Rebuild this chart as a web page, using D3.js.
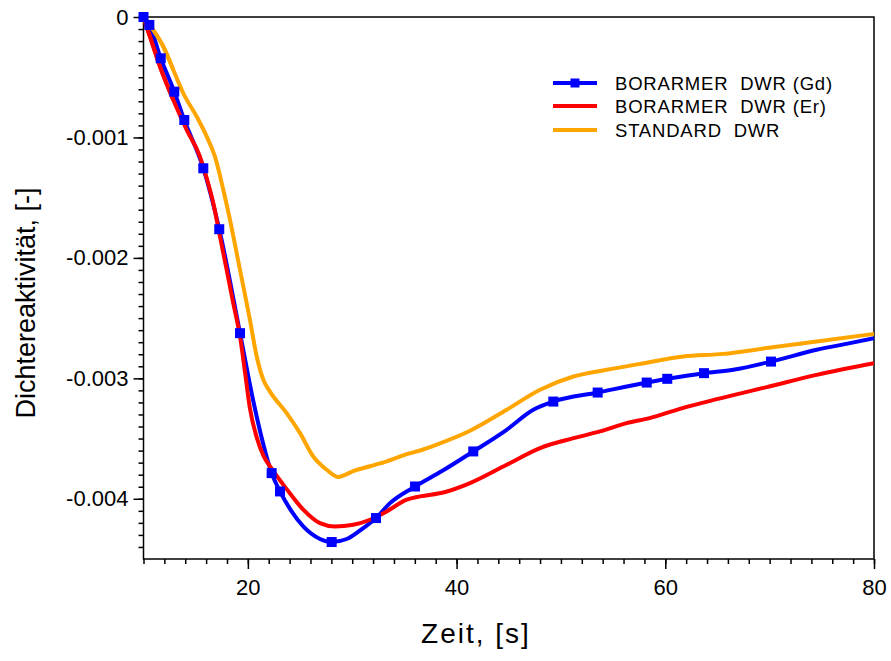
<!DOCTYPE html>
<html>
<head>
<meta charset="utf-8">
<script src="https://cdn.jsdelivr.net/npm/d3@7"></script>
<style>
  body { margin: 0; background: #fff; }
  svg { display: block; font-family: "Liberation Sans", Arial, Helvetica, sans-serif; }
  .leg text, .title { white-space: pre; }
</style>
</head>
<body>
<svg id="chart" width="891" height="661"></svg>
<script>
// Zeit [s] und Dichtereaktivität [-] der drei Kernvarianten
const gdTime = [10, 10.56, 11.65, 12.95, 13.91, 15.73, 17.26, 19.25, 20.5, 21.4, 22.28, 23.08, 24.08, 25.31, 26.91, 28.03, 29.47, 31.06, 32.28, 33.62, 36.02, 38.6, 41.6, 44.8, 47.35, 49.27, 53.52, 58.22, 60.19, 63.71, 66.52, 70.13, 74.5, 77.7, 80];
const gdValue = [0, -0.000066, -0.000343, -0.00062, -0.000855, -0.001256, -0.001762, -0.002625, -0.00318, -0.00352, -0.003787, -0.003939, -0.00409, -0.00423, -0.004334, -0.004359, -0.004334, -0.004243, -0.00416, -0.004036, -0.003898, -0.00377, -0.003607, -0.003427, -0.003261, -0.003193, -0.003118, -0.003035, -0.003004, -0.002957, -0.002929, -0.002861, -0.002763, -0.002708, -0.002667];
// Zeitpunkte mit Symbol auf der Gd-Kurve
const gdMarkerTime = [10, 10.56, 11.65, 12.95, 13.91, 15.73, 17.26, 19.25, 22.28, 23.08, 28.03, 32.28, 36.02, 41.6, 49.27, 53.52, 58.22, 60.19, 63.71, 70.13];

const erTime = [10, 10.62, 11.58, 12.86, 14.14, 15.41, 16.06, 16.69, 17.33, 17.97, 18.6, 19.25, 19.73, 20.2, 20.85, 21.48, 22.28, 23.72, 25.31, 26.91, 28.35, 30.1, 31.7, 33.3, 35.22, 36.5, 38.73, 41.29, 44.8, 48.0, 51.2, 53.74, 56.3, 58.5, 61.4, 64.93, 69.72, 74.5, 80];
const erValue = [-0.00001, -0.000163, -0.000412, -0.000689, -0.000938, -0.001159, -0.001339, -0.001546, -0.001823, -0.0021, -0.002376, -0.002653, -0.00295, -0.00325, -0.00349, -0.00364, -0.00375, -0.00392, -0.00409, -0.004202, -0.00423, -0.004216, -0.004174, -0.004105, -0.004008, -0.00398, -0.003948, -0.00387, -0.003718, -0.003579, -0.003497, -0.003441, -0.003372, -0.00333, -0.003253, -0.003173, -0.003073, -0.002971, -0.002874];

const stdTime = [10, 10.94, 11.9, 12.86, 13.81, 15.1, 16.06, 16.85, 17.65, 18.29, 18.93, 19.57, 20.2, 20.85, 21.48, 22.12, 23.72, 25.0, 26.27, 27.55, 28.67, 29.47, 30.1, 31.7, 33.3, 35.22, 36.5, 38.1, 41.29, 44.8, 48.0, 51.2, 54.39, 57.58, 61.73, 65.56, 69.72, 74.5, 80];
const stdValue = [0, -0.000108, -0.000246, -0.00044, -0.000633, -0.000827, -0.000993, -0.001159, -0.001436, -0.001685, -0.001961, -0.002238, -0.002515, -0.002819, -0.003012, -0.00311, -0.003289, -0.003455, -0.003649, -0.003759, -0.00382, -0.003795, -0.00377, -0.00373, -0.00369, -0.00363, -0.003599, -0.00355, -0.003435, -0.003261, -0.003095, -0.002985, -0.002929, -0.00288, -0.002819, -0.002797, -0.002749, -0.002694, -0.002631];

const xTicks = [20, 40, 60, 80];
const yTicks = [0, -0.001, -0.002, -0.003, -0.004];
const yTickLabels = ["0", "-0.001", "-0.002", "-0.003", "-0.004"];
const seriesNames = ["BORARMER  DWR (Gd)", "BORARMER  DWR (Er)", "STANDARD  DWR"];
const seriesColors = ["#0000ff", "#ff0000", "#ffa500"];

const svg = d3.select("#chart");
const mLeft = 143.5, mRight = 874, mTop = 17, mBottom = 559;

const x = d3.scaleLinear().domain([10, 80]).range([mLeft, mRight]);
const y = d3.scaleLinear().domain([-0.0045, 0]).range([mBottom, mTop]);

// Minor ticks
svg.append("g")
  .attr("transform", `translate(0,${mBottom})`)
  .call(d3.axisBottom(x).tickValues(d3.range(10, 80.01, 2)).tickSize(5).tickFormat(""))
  .call(g => g.select(".domain").remove())
  .call(g => g.selectAll("line").attr("stroke-width", 1.5));
svg.append("g")
  .attr("transform", `translate(${mLeft},0)`)
  .call(d3.axisLeft(y).tickValues(d3.range(0, 45).map(i => -i * 0.0001)).tickSize(5).tickFormat(""))
  .call(g => g.select(".domain").remove())
  .call(g => g.selectAll("line").attr("stroke-width", 1.5));

// Major ticks with labels
svg.append("g")
  .attr("transform", `translate(0,${mBottom})`)
  .call(d3.axisBottom(x).tickValues(xTicks).tickSize(10).tickPadding(10).tickFormat(d3.format("d")))
  .call(g => g.select(".domain").remove())
  .call(g => g.selectAll("line").attr("stroke-width", 1.5))
  .call(g => g.selectAll("text").attr("font-size", 22).attr("fill", "#000").attr("font-family", null));
svg.append("g")
  .attr("transform", `translate(${mLeft},0)`)
  .call(d3.axisLeft(y).tickValues(yTicks).tickSize(10).tickPadding(5).tickFormat((d, i) => yTickLabels[i]))
  .call(g => g.select(".domain").remove())
  .call(g => g.selectAll("line").attr("stroke-width", 1.5))
  .call(g => g.selectAll("text").attr("font-size", 22).attr("fill", "#000").attr("font-family", null));

// Frame
svg.append("rect")
  .attr("x", mLeft).attr("y", mTop)
  .attr("width", mRight - mLeft).attr("height", mBottom - mTop)
  .attr("fill", "none").attr("stroke", "#000").attr("stroke-width", 1.5);

const line = d3.line().x(d => x(d[0])).y(d => y(d[1])).curve(d3.curveMonotoneX);
const zip = (t, v) => t.map((d, i) => [d, v[i]]);

const series = [zip(gdTime, gdValue), zip(erTime, erValue), zip(stdTime, stdValue)];

svg.append("defs").append("clipPath").attr("id", "plot")
  .append("rect").attr("x", mLeft).attr("y", mTop - 6).attr("width", mRight - mLeft).attr("height", mBottom - mTop + 6);

const plot = svg.append("g").attr("clip-path", "url(#plot)");
plot.selectAll("path.series")
  .data(series)
  .join("path")
  .attr("class", "series")
  .attr("d", line)
  .attr("fill", "none")
  .attr("stroke", (d, i) => seriesColors[i])
  .attr("stroke-width", 4)
  .attr("stroke-linejoin", "round");

// Gd markers
const markerPts = gdMarkerTime.map(t => [t, gdValue[gdTime.indexOf(t)]]);
svg.append("g").selectAll("rect")
  .data(markerPts)
  .join("rect")
  .attr("x", d => x(d[0]) - 5)
  .attr("y", d => y(d[1]) - 5)
  .attr("width", 10).attr("height", 10)
  .attr("fill", seriesColors[0]);

// Er and Standard drawn again over the first markers near the origin
plot.selectAll("path.over")
  .data(series.slice(1).map(s => s.slice(0, 4)))
  .join("path")
  .attr("class", "over")
  .attr("d", line)
  .attr("fill", "none")
  .attr("stroke", (d, i) => seriesColors[i + 1])
  .attr("stroke-width", 4);

// Legend
const leg = svg.append("g").attr("class", "leg");
const legY = [83, 106, 130];
seriesNames.forEach((name, i) => {
  leg.append("line")
    .attr("x1", 553).attr("x2", 597)
    .attr("y1", legY[i]).attr("y2", legY[i])
    .attr("stroke", seriesColors[i]).attr("stroke-width", 4);
  if (i === 0) {
    leg.append("rect").attr("x", 570.5).attr("y", legY[i] - 4.5)
      .attr("width", 9).attr("height", 9).attr("fill", seriesColors[i]);
  }
  leg.append("text")
    .attr("x", 615).attr("y", legY[i])
    .attr("dy", "0.36em")
    .attr("font-size", 18.5)
    .attr("letter-spacing", 0.8)
    .text(name);
});

// Axis titles
svg.append("text")
  .attr("class", "title")
  .attr("x", 476).attr("y", 643)
  .attr("text-anchor", "middle")
  .attr("font-size", 28)
  .attr("letter-spacing", 2)
  .text("Zeit, [s]");
svg.append("text")
  .attr("class", "title")
  .attr("transform", "translate(35,303) rotate(-90)")
  .attr("text-anchor", "middle")
  .attr("font-size", 27)
  .text("Dichtereaktivität, [-]");
</script>
</body>
</html>
